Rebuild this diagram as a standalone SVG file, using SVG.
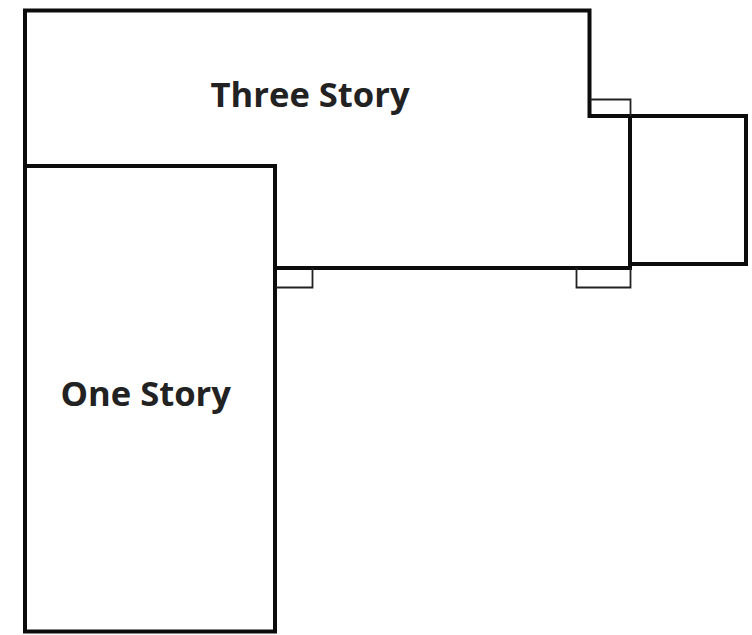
<svg xmlns="http://www.w3.org/2000/svg" width="752" height="635" viewBox="0 0 752 635">
<style>
.w{fill:none;stroke:#0c0c0c;stroke-width:4;stroke-linejoin:miter}
.t{fill:none;stroke:#222;stroke-width:1.8}
.l{font-family:"Open Sans",sans-serif;font-weight:700;font-size:34.600px;fill:#222}
</style>
<rect width="752" height="635" fill="#fff"/>
<g id="three-story">
<path class="w" d="M25 166V10.500H589.500V116H630V268H275"/>
<text class="l" x="210.500" y="107">Three Story</text>
</g>
<g id="one-story">
<rect class="w" x="25" y="166" width="250" height="465.500"/>
<text class="l" x="60.500" y="406">One Story</text>
</g>
<g id="annex">
<path class="w" d="M630 116H746V264H630"/>
</g>
<g id="porches">
<path class="t" d="M590 99.500H630.500V116"/>
<path class="t" d="M276 287.500H312.500V268"/>
<path class="t" d="M576.500 268V287.500H630.500V268"/>
</g>
<g id="connectors"/>
</svg>
